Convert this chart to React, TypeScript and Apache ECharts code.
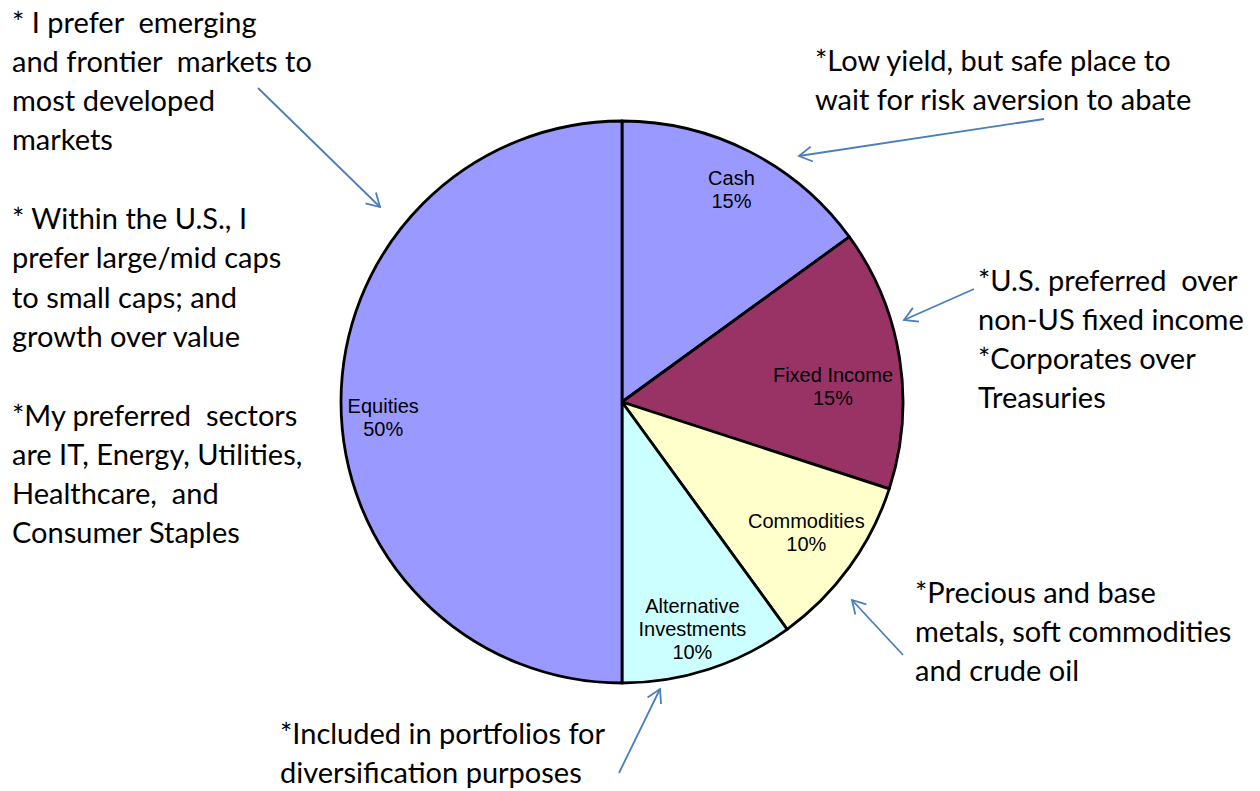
import React, { useEffect, useRef } from "react";
import * as echarts from "echarts";

const categories = ["Cash", "Fixed Income", "Commodities", "Alternative\nInvestments", "Equities"];
const values = [15, 15, 10, 10, 50];
const colors = ["#9999FF", "#993366", "#FFFFCC", "#CCFFFF", "#9999FF"];
const labelOffsets: [number, number][] = [[6, -10], [-14, 20], [0, -3], [0, 10], [-11, 15]];

const noteLeft = [
  "* I prefer  emerging",
  "and frontier  markets to",
  "most developed",
  "markets",
  "",
  "* Within the U.S., I",
  "prefer large/mid caps",
  "to small caps; and",
  "growth over value",
  "",
  "*My preferred  sectors",
  "are IT, Energy, Utilities,",
  "Healthcare,  and",
  "Consumer Staples",
];
const noteCash = ["*Low yield, but safe place to", "wait for risk aversion to abate"];
const noteFixed = ["*U.S. preferred  over", "non-US fixed income", "*Corporates over", "Treasuries"];
const noteCommod = ["*Precious and base", "metals, soft commodities", "and crude oil"];
const noteAlt = ["*Included in portfolios for", "diversification purposes"];

const ARROW = "#4A7EBB";
const NOTE_FONT = "Lato, 'Open Sans', sans-serif";
const NOTE_SIZE = 29;
const NOTE_LH = 39.3;

function arrow(x1: number, y1: number, x2: number, y2: number) {
  const ang = Math.atan2(y2 - y1, x2 - x1);
  const len = 15;
  const spread = Math.PI / 6;
  const p1 = [x2 - len * Math.cos(ang - spread), y2 - len * Math.sin(ang - spread)];
  const p2 = [x2 - len * Math.cos(ang + spread), y2 - len * Math.sin(ang + spread)];
  return [
    { type: "line", shape: { x1, y1, x2, y2 }, style: { stroke: ARROW, lineWidth: 1.8 } },
    { type: "polyline", shape: { points: [p1, [x2, y2], p2] }, style: { stroke: ARROW, lineWidth: 1.8, fill: null } },
  ];
}

function note(lines: string[], x: number, firstCenter: number) {
  return lines
    .map((t, i) => ({ t, i }))
    .filter((o) => o.t.length > 0)
    .map(({ t, i }) => ({
      type: "text",
      x,
      y: firstCenter + i * NOTE_LH,
      style: {
        text: t,
        fontSize: NOTE_SIZE,
        fontFamily: NOTE_FONT,
        lineHeight: 26,
        fill: "#000",
        verticalAlign: "middle",
        align: "left",
      },
    }));
}

export default function App() {
  const ref = useRef<HTMLDivElement>(null);
  useEffect(() => {
    const chart = echarts.init(ref.current!, null, { renderer: "svg" });
    const data = categories.map((name, i) => ({
      name,
      value: values[i],
      itemStyle: { color: colors[i] },
    }));
    const labelData = categories.map((name, i) => ({
      name,
      value: values[i],
      label: { offset: labelOffsets[i] },
    }));
    const R = 281;
    chart.setOption({
      animation: false,
      backgroundColor: "#fff",
      series: [
        {
          type: "pie",
          center: [622, 402],
          radius: [0, R],
          startAngle: 90,
          clockwise: true,
          silent: true,
          label: { show: false },
          labelLine: { show: false },
          itemStyle: { borderColor: "#000", borderWidth: 2.8 },
          data,
        },
        {
          type: "pie",
          center: [622, 402],
          radius: [R * 0.6, R],
          startAngle: 90,
          clockwise: true,
          silent: true,
          itemStyle: { color: "rgba(0,0,0,0)", borderWidth: 0 },
          label: {
            show: true,
            position: "inside",
            formatter: (p: any) => `${p.name}\n${p.value}%`,
            fontFamily: "'Liberation Sans', Arial, sans-serif",
            fontSize: 20,
            lineHeight: 23,
            color: "#000",
            align: "center",
          },
          labelLine: { show: false },
          data: labelData,
        },
      ],
      graphic: [
        ...note(noteLeft, 12, 21),
        ...note(noteCash, 815, 59),
        ...note(noteFixed, 978, 279),
        ...note(noteCommod, 915, 591),
        ...note(noteAlt, 280, 732),
        ...arrow(258, 88, 380, 207),
        ...arrow(1044, 119, 799, 156),
        ...arrow(974, 289, 904, 320),
        ...arrow(903, 655, 852, 600),
        ...arrow(619, 773, 660, 689),
      ],
    });
    return () => chart.dispose();
  }, []);
  return (
    <div
      ref={ref}
      style={{ position: "fixed", left: 0, top: 0, width: 1260, height: 791, background: "#fff" }}
    />
  );
}
